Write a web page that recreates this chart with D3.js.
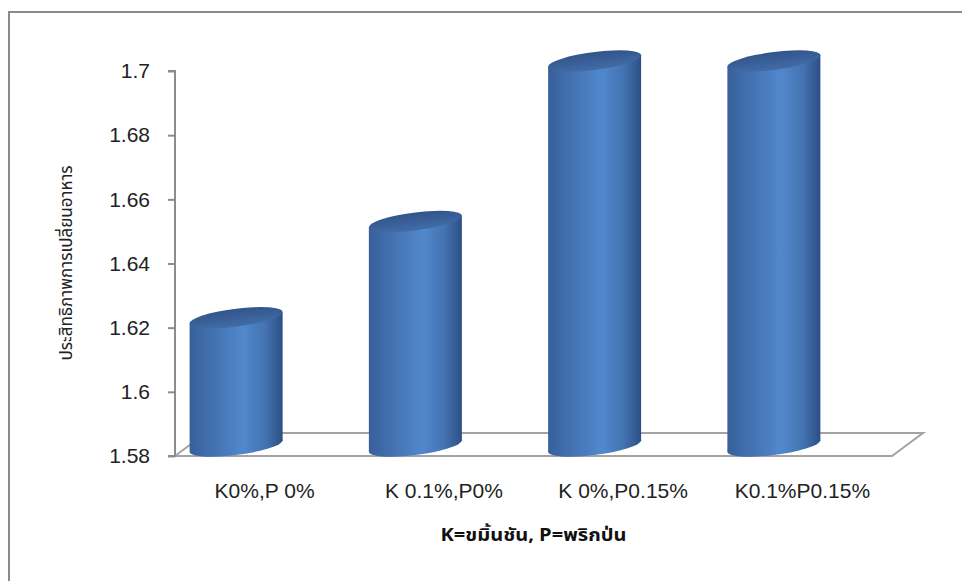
<!DOCTYPE html>
<html>
<head>
<meta charset="utf-8">
<script src="https://cdn.jsdelivr.net/npm/d3@7"></script>
<style>
  html, body { margin: 0; padding: 0; background: #fff; }
  svg { display: block; }
</style>
</head>
<body>
<svg id="chart" width="962" height="581"></svg>
<script>
// Feed conversion ratio by turmeric (K) / chili (P) supplement level
const categories = ["K0%,P 0%", "K 0.1%,P0%", "K 0%,P0.15%", "K0.1%P0.15%"];
const values = [1.62, 1.65, 1.70, 1.70];
const yTicks = [1.58, 1.60, 1.62, 1.64, 1.66, 1.68, 1.70];
const yTickLabels = ["1.58", "1.6", "1.62", "1.64", "1.66", "1.68", "1.7"];
const yTitle = "ประสิทธิภาพการเปลี่ยนอาหาร";
const xTitleParts = ["K", "=ขมิ้นชัน, ", "P", "=พริกป่น"];

const svg = d3.select("#chart");
const W = 962, H = 581;

// outer frame of the chart area
svg.append("rect")
  .attr("x", 9).attr("y", 12)
  .attr("width", W + 20).attr("height", H + 20)
  .attr("fill", "#fff")
  .attr("stroke", "#8a8a8a").attr("stroke-width", 2);

const plotLeft = 175, plotRight = 892;
const y = d3.scaleLinear().domain([1.58, 1.70]).range([456, 71]);
const x = d3.scaleBand().domain(categories).range([plotLeft, plotRight]);

// depth of the 3-D floor
const depthX = 31, depthY = -23;
const floorY = y(1.58);

const defs = svg.append("defs");
const bodyGrad = defs.append("linearGradient").attr("id", "bodyGrad")
  .attr("x1", "0").attr("x2", "1").attr("y1", "0").attr("y2", "0");
[[0, "#375f9b"], [0.2, "#416eac"], [0.58, "#5188cd"], [0.82, "#4372b0"], [1, "#2c4f85"]]
  .forEach(([o, c]) => bodyGrad.append("stop").attr("offset", o).attr("stop-color", c));
const capGrad = defs.append("linearGradient").attr("id", "capGrad")
  .attr("x1", "0").attr("x2", "0").attr("y1", "0").attr("y2", "1");
[[0, "#32558a"], [0.6, "#3b629b"], [1, "#426da8"]]
  .forEach(([o, c]) => capGrad.append("stop").attr("offset", o).attr("stop-color", c));

// floor
const floor = svg.append("g").attr("fill", "none").attr("stroke", "#a3a3a3").attr("stroke-width", 2);
floor.append("path").attr("d",
  `M${plotLeft},${floorY}L${plotRight},${floorY}L${plotRight + depthX},${floorY + depthY}` +
  `L${plotLeft + depthX},${floorY + depthY}Z`);

// value axis
const yAxis = svg.append("g")
  .attr("transform", `translate(${plotLeft},0)`)
  .call(d3.axisLeft(y).tickValues(yTicks).tickSize(7).tickPadding(18)
    .tickFormat((d, i) => yTickLabels[i]));
yAxis.select(".domain").attr("stroke", "#8c8c8c").attr("stroke-width", 2)
  .attr("d", `M-7,${y(1.70)}H0V${y(1.58)}H-7`);
yAxis.selectAll(".tick line").attr("stroke", "#8c8c8c").attr("stroke-width", 2);
yAxis.selectAll(".tick text")
  .attr("fill", "#222").attr("font-size", 21)
  .attr("font-family", "'Liberation Sans', Arial, sans-serif");

// cylinders: drawn upright, then sheared so the caps tilt up to the right
const rx = 46.5, ry = 9, tilt = -7, capLift = 10, shift = 28.5;
const bars = svg.append("g");
categories.forEach((c, i) => {
  const cx = x(c) + x.bandwidth() / 2 - shift;
  const topC = y(values[i]) - capLift;
  const botC = floorY - capLift;
  const g = bars.append("g").attr("transform", `translate(${cx},0) skewY(${tilt})`);
  g.append("rect")
    .attr("x", -rx).attr("y", topC)
    .attr("width", rx * 2).attr("height", botC - topC)
    .attr("fill", "url(#bodyGrad)");
  g.append("ellipse")
    .attr("cx", 0).attr("cy", botC).attr("rx", rx).attr("ry", ry)
    .attr("fill", "url(#bodyGrad)");
  g.append("ellipse")
    .attr("cx", 0).attr("cy", topC).attr("rx", rx).attr("ry", ry)
    .attr("fill", "url(#capGrad)");
});

// category labels
svg.append("g").selectAll("text").data(categories).join("text")
  .attr("x", d => x(d) + x.bandwidth() / 2)
  .attr("y", 498)
  .attr("text-anchor", "middle")
  .attr("font-size", 21)
  .attr("font-family", "'Liberation Sans', Arial, sans-serif")
  .attr("fill", "#222")
  .text(d => d);

// category axis title, centred under the plot
const xt = svg.append("text")
  .attr("x", (plotLeft + plotRight) / 2).attr("y", 541)
  .attr("text-anchor", "middle")
  .attr("font-size", 18)
  .attr("textLength", 186).attr("lengthAdjust", "spacingAndGlyphs")
  .attr("font-family", "'Liberation Sans Narrow', 'Noto Sans Thai', 'Noto Sans', sans-serif")
  .attr("font-weight", "bold")
  .attr("fill", "#111");
xTitleParts.forEach(t => xt.append("tspan").text(t));

// value axis title
svg.append("text")
  .attr("transform", "translate(72,263) rotate(-90)")
  .attr("text-anchor", "middle")
  .attr("font-size", 17)
  .attr("font-family", "'Noto Sans Thai', 'Noto Sans', sans-serif")
  .attr("fill", "#222")
  .text(yTitle);
</script>
</body>
</html>
